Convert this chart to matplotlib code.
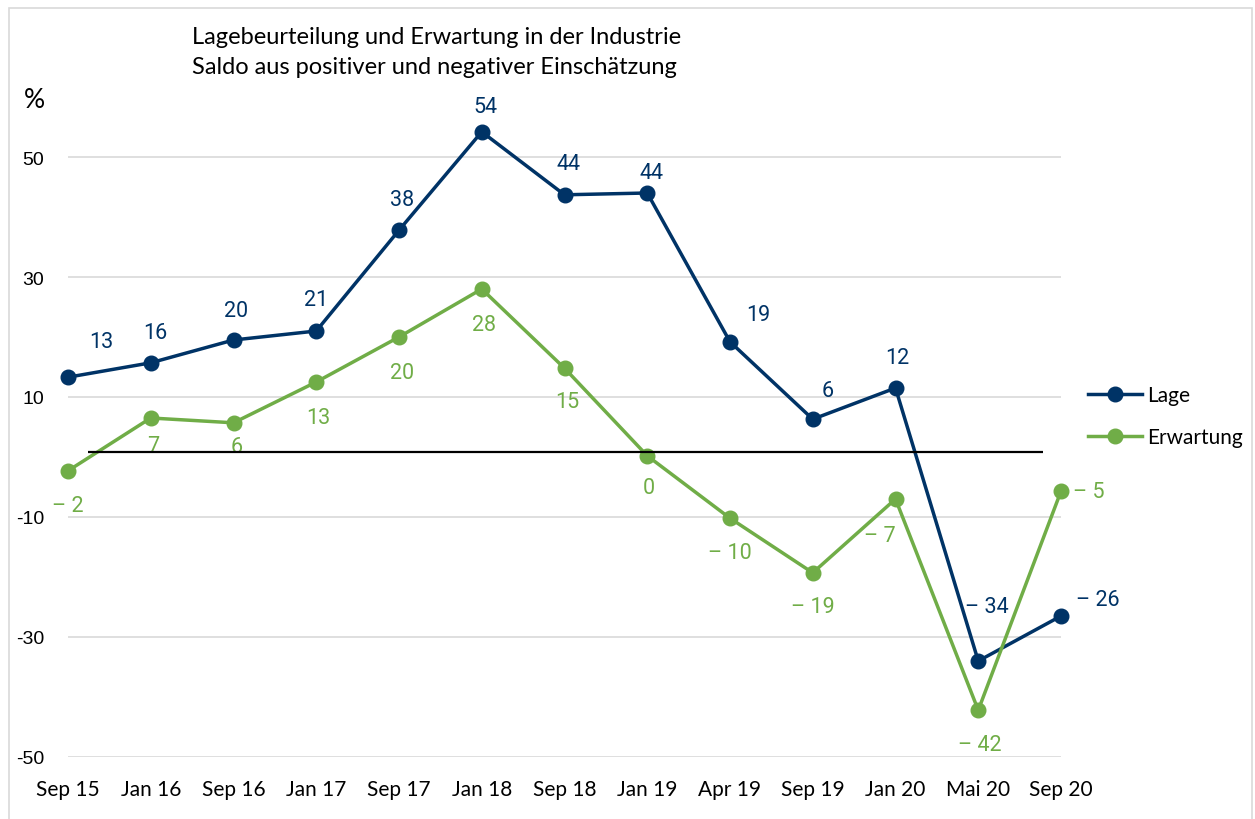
import matplotlib.pyplot as plt
from matplotlib.patches import Rectangle

plt.rcParams["axes.unicode_minus"] = False

# data
months = ["Sep 15", "Jan 16", "Sep 16", "Jan 17", "Sep 17", "Jan 18", "Sep 18",
          "Jan 19", "Apr 19", "Sep 19", "Jan 20", "Mai 20", "Sep 20"]
lage = [13.3, 15.7, 19.5, 21.0, 37.8, 54.2, 43.7, 44.0, 19.2, 6.3, 11.5, -34.0, -26.5]
erwartung = [-2.3, 6.5, 5.7, 12.5, 20.0, 28.0, 14.8, 0.2, -10.2, -19.3, -7.0, -42.2, -5.7]
lage_labels = ["13", "16", "20", "21", "38", "54", "44", "44", "19", "6", "12",
               "\u2013 34", "\u2013 26"]
erw_labels = ["\u2013 2", "7", "6", "13", "20", "28", "15", "0", "\u2013 10",
              "\u2013 19", "\u2013 7", "\u2013 42", "\u2013 5"]
yticks = [-50, -30, -10, 10, 30, 50]

# label offsets in pixels (dx, dy up)
lage_off = [(33, 36), (5, 30), (3, 30), (0, 32), (3, 31), (4, 25), (4, 31),
            (4, 21), (28, 27), (15, 29), (2, 31), (9, 54), (37, 16)]
erw_off = [(0, -35), (2, -28), (3, -24), (2, -35), (3, -35), (2, -35), (3, -33),
           (2, -32), (0, -34), (0, -34), (-16, -37), (1, -34), (28, 0)]

blue = "#003366"
green = "#70AD47"

fig = plt.figure(figsize=(12.55, 8.2), dpi=100)
ax = fig.add_axes([68 / 1255, 62 / 820, 993 / 1255, 672 / 820])

x = list(range(len(months)))
ax.plot(x, lage, color=blue, lw=2.5, marker="o", ms=10.5, label="Lage",
        clip_on=False, zorder=3)
ax.plot(x, erwartung, color=green, lw=2.5, marker="o", ms=10.5, label="Erwartung",
        clip_on=False, zorder=3)

for xi, v, t, (dx, dy) in zip(x, lage, lage_labels, lage_off):
    ax.annotate(t, (xi, v), xytext=(dx, dy), textcoords="offset pixels",
                ha="center", va="center", color=blue, fontsize=15.5,
                family="Roboto", zorder=4)
for xi, v, t, (dx, dy) in zip(x, erwartung, erw_labels, erw_off):
    ax.annotate(t, (xi, v), xytext=(dx, dy), textcoords="offset pixels",
                ha="center", va="center", color=green, fontsize=15.5,
                family="Roboto", zorder=4)

# reference line near zero
ax.hlines(0.8, 0.24, 11.78, color="black", lw=1.6, zorder=5)

ax.set_xlim(0, len(months) - 1)
ax.set_ylim(-50, 62)
ax.set_yticks(yticks)
ax.set_xticks(x)
ax.set_xticklabels(months)
ax.tick_params(length=0)
ax.tick_params(axis="y", pad=17, labelsize=14, labelfontfamily="Liberation Sans")
ax.tick_params(axis="x", pad=16, labelsize=15, labelfontfamily="Lato")
ax.grid(axis="y", color="#D9D9D9", lw=1.2)
ax.set_axisbelow(True)
for s in ax.spines.values():
    s.set_visible(False)

ax.legend(loc="center left", bbox_to_anchor=(1088 / 1255, 1 - 417 / 820),
          bbox_transform=fig.transFigure, frameon=False, borderpad=0,
          borderaxespad=0, handlelength=2.6, handletextpad=0.25,
          labelspacing=1.05, prop={"family": "Lato", "size": 15})

fig.text(192 / 1255, 1 - 38 / 820, "Lagebeurteilung und Erwartung in der Industrie",
         family="Lato", fontsize=17, va="center", ha="left")
fig.text(192 / 1255, 1 - 68 / 820, "Saldo aus positiver und negativer Einschätzung",
         family="Lato", fontsize=17, va="center", ha="left")
fig.text(34 / 1255, 1 - 101 / 820, "%", family="Lato", fontsize=19,
         va="center", ha="center")

fig.patches.append(Rectangle((9 / 1255, -0.01), 1243 / 1255, 1 - 9 / 820 + 0.01,
                             transform=fig.transFigure, fill=False,
                             edgecolor="#D9D9D9", lw=1.2))

fig.savefig("out.png", dpi=100)
